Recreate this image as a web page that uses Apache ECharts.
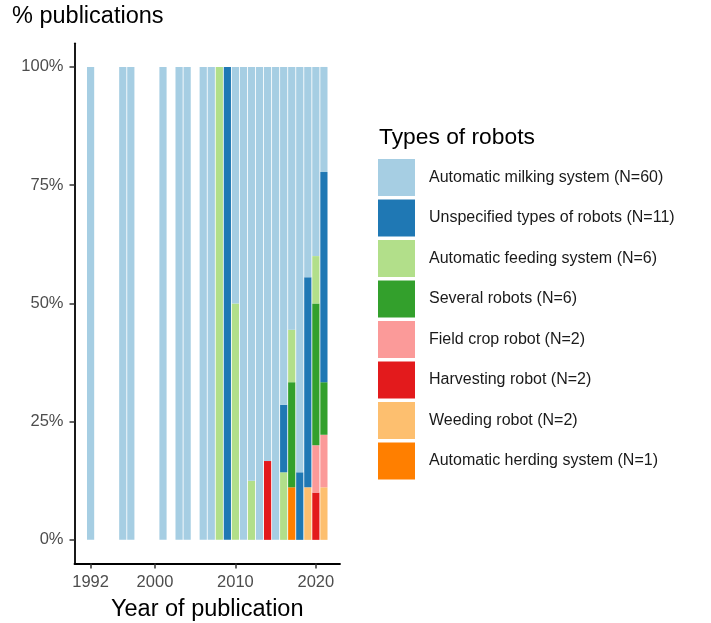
<!DOCTYPE html>
<html>
<head>
<meta charset="utf-8">
<script src="https://cdn.jsdelivr.net/npm/echarts@6/dist/echarts.min.js"></script>
<style>
  html, body { margin: 0; padding: 0; background: #fff; }
  #chart { width: 711px; height: 623px; }
</style>
</head>
<body>
<div id="chart"></div>
<script>
// publication years that have at least one paper
const years = [1992, 1996, 1997, 2001, 2003, 2004, 2006, 2007, 2008, 2009, 2010,
  2011, 2012, 2013, 2014, 2015, 2016, 2017, 2018, 2019, 2020, 2021];

// paper counts per year, one array per robot type
const milking     = [1, 1, 1, 1, 1, 1, 2, 2, 0, 0, 1, 3, 7, 4, 5, 4, 5, 5, 6, 4, 4, 2];
const unspecified = [0, 0, 0, 0, 0, 0, 0, 0, 0, 1, 0, 0, 0, 0, 0, 0, 1, 0, 1, 4, 0, 4];
const feeding     = [0, 0, 0, 0, 0, 0, 0, 0, 1, 0, 1, 0, 1, 0, 0, 0, 1, 1, 0, 0, 1, 0];
const several     = [0, 0, 0, 0, 0, 0, 0, 0, 0, 0, 0, 0, 0, 0, 0, 0, 0, 2, 0, 0, 3, 1];
const fieldCrop   = [0, 0, 0, 0, 0, 0, 0, 0, 0, 0, 0, 0, 0, 0, 0, 0, 0, 0, 0, 0, 1, 1];
const harvesting  = [0, 0, 0, 0, 0, 0, 0, 0, 0, 0, 0, 0, 0, 0, 1, 0, 0, 0, 0, 0, 1, 0];
const weeding     = [0, 0, 0, 0, 0, 0, 0, 0, 0, 0, 0, 0, 0, 0, 0, 0, 0, 0, 0, 1, 0, 1];
const herding     = [0, 0, 0, 0, 0, 0, 0, 0, 0, 0, 0, 0, 0, 0, 0, 0, 0, 1, 0, 0, 0, 0];

const xTicks = [1992, 2000, 2010, 2020];
const yTicks = [0, 25, 50, 75, 100];
const yearFrom = 1990, yearTo = 2023; // axis span incl. ggplot padding

// legend order (top of stack first)
const types = [
  { name: "Automatic milking system (N=60)", data: milking, color: "#A6CEE3" },
  { name: "Unspecified types of robots (N=11)", data: unspecified, color: "#1F78B4" },
  { name: "Automatic feeding system (N=6)", data: feeding, color: "#B2DF8A" },
  { name: "Several robots (N=6)", data: several, color: "#33A02C" },
  { name: "Field crop robot (N=2)", data: fieldCrop, color: "#FB9A99" },
  { name: "Harvesting robot (N=2)", data: harvesting, color: "#E31A1C" },
  { name: "Weeding robot (N=2)", data: weeding, color: "#FDBF6F" },
  { name: "Automatic herding system (N=1)", data: herding, color: "#FF7F00" },
];

const totals = years.map((y, i) => types.reduce((s, t) => s + t.data[i], 0));

// every year on the axis, so the category slots fall on a linear year scale
const axisYears = [];
for (let y = yearFrom; y <= yearTo; y++) axisYears.push(String(y));

const font = "'Liberation Sans', Arial, sans-serif";

// ggplot stacks the first level on top, so feed the series bottom-up
const series = types.slice().reverse().map((t) => ({
  name: t.name,
  type: "bar",
  stack: "all",
  barWidth: 7.2,
  itemStyle: { color: t.color },
  data: axisYears.map((y) => {
    const i = years.indexOf(Number(y));
    if (i < 0 || !t.data[i]) return 0;
    return (t.data[i] / totals[i]) * 100;
  }),
}));

const chart = echarts.init(document.getElementById("chart"));

const option = {
  animation: false,
  textStyle: { fontFamily: font },
  title: [
    {
      text: "% publications",
      left: 12,
      top: 5,
      padding: 0,
      textStyle: { fontFamily: font, fontSize: 23.5, fontWeight: "normal", color: "#000" },
    },
    {
      text: "Types of robots",
      left: 379,
      top: 126,
      padding: 0,
      textStyle: { fontFamily: font, fontSize: 22.8, fontWeight: "normal", color: "#000" },
    },
  ],
  legend: {
    orient: "vertical",
    left: 378,
    top: 159,
    padding: 0,
    itemWidth: 37,
    itemHeight: 37,
    itemGap: 3.5,
    icon: "rect",
    selectedMode: false,
    data: types.map((t) => t.name),
    textStyle: { fontFamily: font, fontSize: 16, color: "#1a1a1a", padding: [0, 0, 0, 9] },
  },
  grid: { left: 74.5, right: 371, top: 43.3, bottom: 59.5, outerBoundsMode: "none", containLabel: false },
  xAxis: {
    type: "category",
    data: axisYears,
    boundaryGap: false,
    name: "Year of publication",
    nameLocation: "middle",
    nameGap: 34,
    nameTextStyle: { fontFamily: font, fontSize: 23.5, color: "#000" },
    splitLine: { show: false },
    axisLine: { show: true, onZero: false, lineStyle: { color: "#000", width: 1.8 } },
    axisTick: {
      show: true,
      length: 5,
      interval: (idx, val) => xTicks.includes(Number(val)),
      lineStyle: { color: "#333", width: 1.5 },
    },
    axisLabel: {
      interval: (idx, val) => xTicks.includes(Number(val)),
      margin: 10,
      fontSize: 16.5,
      color: "#4D4D4D",
      fontFamily: font,
    },
  },
  yAxis: {
    type: "value",
    min: -5,
    max: 105,
    splitLine: { show: false },
    axisLine: { show: true, lineStyle: { color: "#000", width: 1.8 } },
    axisTick: { show: true, length: 5, customValues: yTicks, lineStyle: { color: "#333", width: 1.5 } },
    axisLabel: {
      customValues: yTicks,
      margin: 11,
      fontSize: 16.5,
      color: "#4D4D4D",
      fontFamily: font,
      formatter: "{value}%",
    },
  },
  series: series,
};

chart.setOption(option);
</script>
</body>
</html>
